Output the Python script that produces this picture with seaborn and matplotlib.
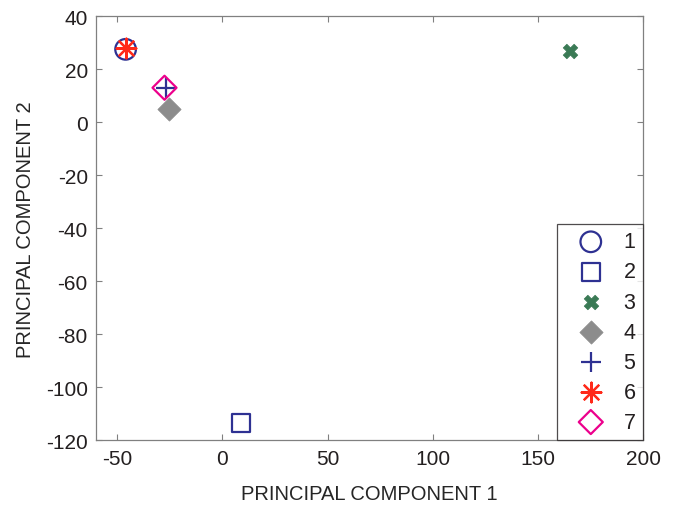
import matplotlib
matplotlib.use("Agg")
import matplotlib.pyplot as plt
import seaborn as sns

# one point per group
groups = ["1", "2", "3", "4", "5", "6", "7"]
pc1 = [-46, 9, 165, -25.5, -27, -46, -27.5]
pc2 = [27.5, -113.5, 27, 5, 13, 28, 13]

colors = ["#2e3192", "#2e3192", "#3a7a55", "#8c8c8c", "#2e3192", "#ff2a1a", "#ec008c"]
markers = ["o", "s", "X", "D", "+", (8, 2, 0), "D"]
open_face = [True, True, False, False, False, False, True]
sizes = [220, 170, 110, 140, 220, 200, 150]

sns.set_style("ticks")
plt.rcParams["font.family"] = ["Liberation Sans", "DejaVu Sans"]
plt.rcParams["text.color"] = "#231f20"
plt.rcParams["axes.unicode_minus"] = False

fig = plt.figure(figsize=(6.77, 5.06), dpi=100)
ax = fig.add_axes([0.142, 0.128, 0.808, 0.838])

for g, x, y, c, m, o, s in zip(groups, pc1, pc2, colors, markers, open_face, sizes):
    kws = dict(x=[x], y=[y], marker=m, s=s, label=g, ax=ax, zorder=3)
    if o:
        sns.scatterplot(**kws, facecolors="none", edgecolor=c, linewidth=1.6)
    elif m in ("+", (8, 2, 0)):
        sns.scatterplot(**kws, color=c, linewidth=1.6)
    else:
        sns.scatterplot(**kws, color=c, edgecolor=c, linewidth=0.5)

ax.set_xlim(-60, 200)
ax.set_ylim(-120, 40)
ax.set_xticks([-50, 0, 50, 100, 150, 200])
ax.set_yticks(range(-120, 41, 20))
ax.tick_params(direction="in", top=True, right=True, length=4, width=0.8,
               color="#808080", labelsize=15, labelcolor="#231f20", pad=6)
for sp in ax.spines.values():
    sp.set_visible(True)
    sp.set_color("#808080")
    sp.set_linewidth(0.9)

ax.set_xlabel("PRINCIPAL COMPONENT 1", fontsize=14.5, labelpad=12)
ax.set_ylabel("PRINCIPAL COMPONENT 2", fontsize=14.5, labelpad=8)

leg = ax.legend(loc="lower right", fontsize=15.5, frameon=True, fancybox=False,
                edgecolor="#231f20", borderaxespad=0, labelspacing=0.42,
                handletextpad=0.3, borderpad=0.35, handlelength=2.45)
leg.get_frame().set_linewidth(0.9)

fig.savefig("out.png", dpi=100)
